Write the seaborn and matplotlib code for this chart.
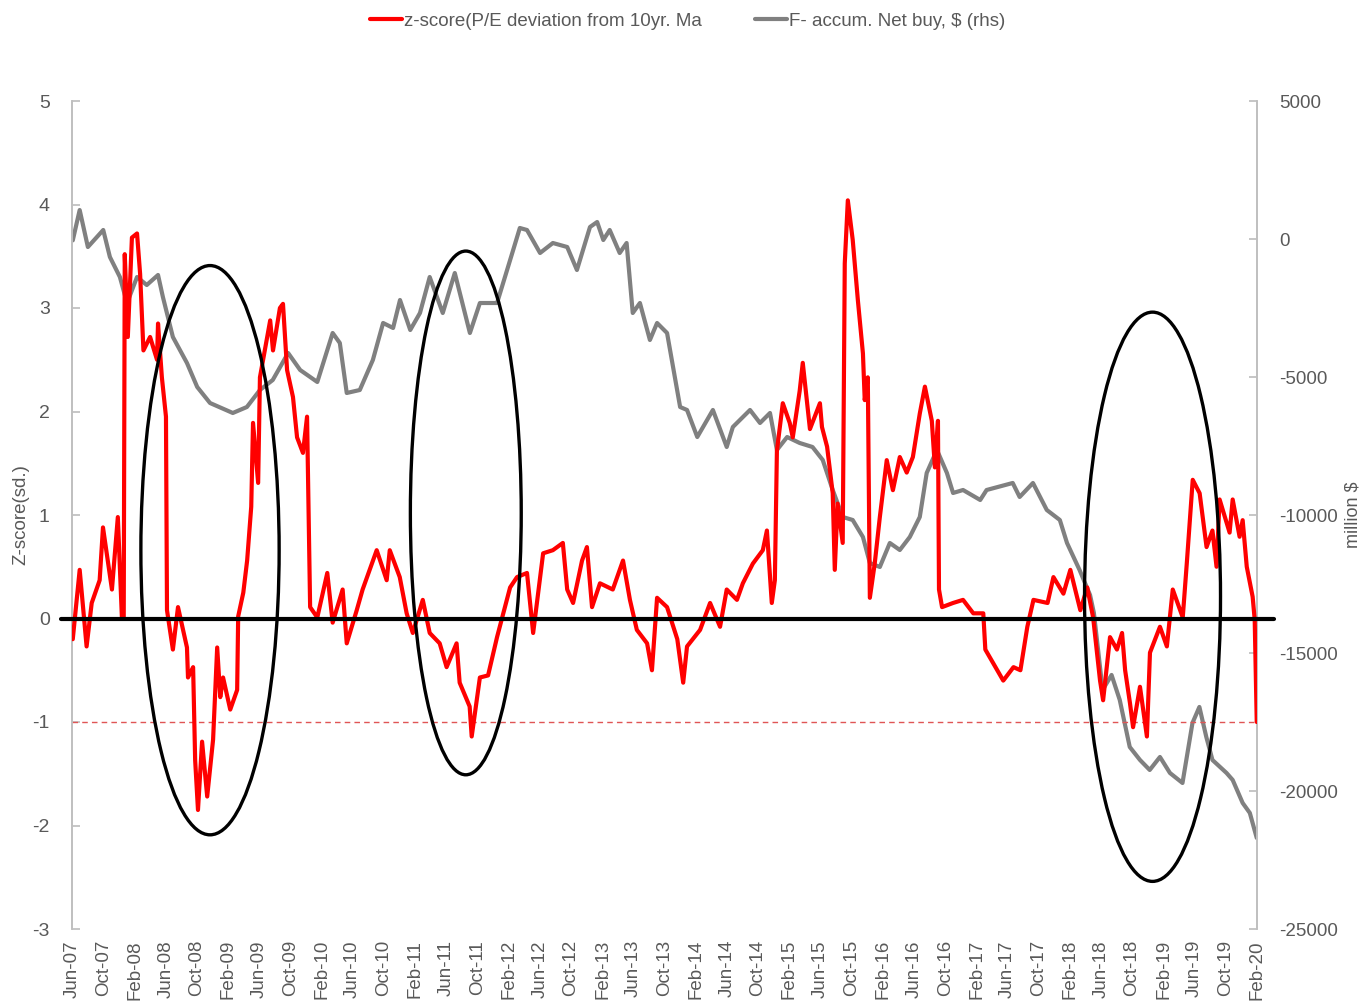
import matplotlib
matplotlib.use("Agg")
import matplotlib.pyplot as plt
import matplotlib.dates as mdates
from matplotlib.patches import Ellipse
from matplotlib.lines import Line2D
import seaborn as sns
import pandas as pd

# ---------------- data ----------------
z_dates = ["2007-06-04", "2007-07-01", "2007-07-28", "2007-08-17", "2007-09-17", "2007-09-30",
           "2007-11-04", "2007-11-27", "2007-12-13", "2007-12-20", "2007-12-24", "2008-01-05",
           "2008-01-21", "2008-02-10", "2008-02-22", "2008-03-06", "2008-04-01", "2008-04-28",
           "2008-05-02", "2008-05-17", "2008-06-02", "2008-06-06", "2008-06-29", "2008-07-19",
           "2008-08-23", "2008-08-27", "2008-09-16", "2008-09-24", "2008-10-05", "2008-10-21",
           "2008-11-10", "2008-12-03", "2008-12-19", "2008-12-31", "2009-01-11", "2009-02-08",
           "2009-03-07", "2009-03-11", "2009-03-31", "2009-04-15", "2009-05-01", "2009-05-08",
           "2009-05-28", "2009-06-04", "2009-07-14", "2009-07-25", "2009-08-21", "2009-09-02",
           "2009-09-18", "2009-10-11", "2009-10-27", "2009-11-19", "2009-12-05", "2009-12-17",
           "2010-01-14", "2010-02-22", "2010-03-15", "2010-04-23", "2010-05-09", "2010-06-17",
           "2010-07-10", "2010-09-03", "2010-10-12", "2010-10-24", "2010-12-02", "2010-12-29",
           "2011-01-22", "2011-03-02", "2011-03-29", "2011-05-07", "2011-06-03", "2011-07-12",
           "2011-07-24", "2011-09-01", "2011-09-09", "2011-10-11", "2011-11-12", "2011-12-17",
           "2012-02-06", "2012-03-04", "2012-04-12", "2012-05-06", "2012-06-14", "2012-07-22",
           "2012-08-30", "2012-09-16", "2012-10-09", "2012-11-13", "2012-12-02", "2012-12-22",
           "2013-01-22", "2013-03-13", "2013-04-22", "2013-05-19", "2013-06-15", "2013-07-25",
           "2013-08-13", "2013-09-02", "2013-10-11", "2013-11-20", "2013-12-13", "2013-12-28",
           "2014-02-17", "2014-03-28", "2014-05-06", "2014-06-01", "2014-07-11", "2014-08-03",
           "2014-09-11", "2014-10-20", "2014-11-05", "2014-11-24", "2014-12-06", "2014-12-14",
           "2015-01-06", "2015-02-02", "2015-02-14", "2015-03-13", "2015-03-25", "2015-04-22",
           "2015-05-31", "2015-06-08", "2015-06-28", "2015-07-20", "2015-07-28", "2015-08-08",
           "2015-08-28", "2015-09-05", "2015-09-17", "2015-10-06", "2015-10-26", "2015-11-15",
           "2015-11-22", "2015-12-04", "2015-12-12", "2015-12-31", "2016-01-20", "2016-02-16",
           "2016-03-11", "2016-04-07", "2016-05-04", "2016-05-28", "2016-06-24", "2016-07-14",
           "2016-08-10", "2016-08-22", "2016-09-03", "2016-09-07", "2016-09-19", "2016-11-01",
           "2016-12-10", "2017-01-19", "2017-02-27", "2017-03-07", "2017-04-23", "2017-05-16",
           "2017-06-25", "2017-07-22", "2017-08-18", "2017-09-11", "2017-11-05", "2017-11-28",
           "2018-01-06", "2018-02-02", "2018-03-13", "2018-04-09", "2018-05-02", "2018-05-29",
           "2018-06-10", "2018-07-07", "2018-08-03", "2018-08-23", "2018-09-04", "2018-09-23",
           "2018-10-05", "2018-11-01", "2018-11-28", "2018-12-10", "2019-01-18", "2019-02-14",
           "2019-03-09", "2019-04-17", "2019-05-03", "2019-05-26", "2019-06-22", "2019-07-19",
           "2019-08-11", "2019-08-27", "2019-09-08", "2019-10-17", "2019-10-29", "2019-11-25",
           "2019-12-07", "2019-12-23", "2020-01-15", "2020-01-23", "2020-01-31"]
z_values = [-0.20, 0.47, -0.27, 0.15, 0.37, 0.88,
            0.28, 0.98, 0.00, 0.00, 3.52, 2.72,
            3.68, 3.72, 3.33, 2.59, 2.72, 2.50,
            2.85, 2.33, 1.95, 0.08, -0.30, 0.11,
            -0.28, -0.57, -0.47, -1.37, -1.85, -1.19,
            -1.72, -1.17, -0.28, -0.76, -0.57, -0.88,
            -0.69, 0.02, 0.25, 0.56, 1.08, 1.89,
            1.31, 2.33, 2.88, 2.59, 3.00, 3.04,
            2.40, 2.14, 1.75, 1.60, 1.95, 0.11,
            0.01, 0.44, -0.04, 0.28, -0.24, 0.08,
            0.28, 0.66, 0.37, 0.66, 0.40, 0.05,
            -0.14, 0.18, -0.14, -0.24, -0.47, -0.24,
            -0.62, -0.85, -1.14, -0.57, -0.55, -0.18,
            0.30, 0.40, 0.44, -0.14, 0.63, 0.66,
            0.73, 0.28, 0.15, 0.56, 0.69, 0.11,
            0.34, 0.28, 0.56, 0.18, -0.11, -0.24,
            -0.50, 0.20, 0.11, -0.20, -0.62, -0.27,
            -0.11, 0.15, -0.08, 0.28, 0.18, 0.34,
            0.53, 0.66, 0.85, 0.15, 0.37, 1.62,
            2.08, 1.89, 1.75, 2.20, 2.47, 1.83,
            2.08, 1.85, 1.66, 1.21, 0.47, 1.11,
            0.73, 3.43, 4.04, 3.66, 3.08, 2.56,
            2.11, 2.33, 0.20, 0.53, 0.98, 1.53,
            1.24, 1.56, 1.41, 1.56, 1.98, 2.24,
            1.91, 1.46, 1.91, 0.28, 0.11, 0.15,
            0.18, 0.05, 0.05, -0.30, -0.50, -0.60,
            -0.47, -0.50, -0.08, 0.18, 0.15, 0.40,
            0.24, 0.47, 0.08, 0.30, 0.01, -0.60,
            -0.79, -0.18, -0.30, -0.14, -0.50, -0.82,
            -1.05, -0.66, -1.14, -0.33, -0.08, -0.27,
            0.28, 0.01, 0.54, 1.34, 1.21, 0.69,
            0.85, 0.50, 1.15, 0.83, 1.15, 0.79,
            0.95, 0.50, 0.21, -0.01, -1.00]

f_dates = ["2007-06-04", "2007-07-01", "2007-08-02", "2007-10-01", "2007-10-27", "2007-12-05",
           "2008-01-02", "2008-02-10", "2008-03-19", "2008-05-02", "2008-05-21", "2008-06-29",
           "2008-08-23", "2008-10-02", "2008-11-21", "2009-02-18", "2009-04-14", "2009-06-04",
           "2009-07-24", "2009-09-22", "2009-11-08", "2010-01-14", "2010-03-15", "2010-04-12",
           "2010-05-09", "2010-06-29", "2010-08-19", "2010-09-28", "2010-11-06", "2010-12-03",
           "2011-01-12", "2011-02-19", "2011-03-29", "2011-05-19", "2011-07-05", "2011-09-02",
           "2011-10-11", "2011-12-17", "2012-02-18", "2012-03-15", "2012-04-12", "2012-06-02",
           "2012-07-22", "2012-09-16", "2012-10-24", "2012-12-14", "2013-01-11", "2013-02-04",
           "2013-03-01", "2013-04-09", "2013-05-06", "2013-05-30", "2013-06-27", "2013-08-05",
           "2013-09-02", "2013-10-11", "2013-12-01", "2013-12-28", "2014-02-06", "2014-04-08",
           "2014-06-01", "2014-06-25", "2014-08-31", "2014-10-09", "2014-11-17", "2014-12-14",
           "2015-01-23", "2015-03-13", "2015-05-02", "2015-06-11", "2015-07-20", "2015-08-28",
           "2015-10-06", "2015-11-15", "2015-12-12", "2016-01-20", "2016-02-28", "2016-04-07",
           "2016-05-16", "2016-06-24", "2016-07-21", "2016-08-30", "2016-10-08", "2016-11-01",
           "2016-12-10", "2017-02-15", "2017-03-12", "2017-06-22", "2017-07-19", "2017-09-09",
           "2017-11-02", "2017-12-23", "2018-01-20", "2018-03-10", "2018-04-20", "2018-05-05",
           "2018-06-08", "2018-07-13", "2018-08-14", "2018-09-22", "2018-11-01", "2018-12-09",
           "2019-01-18", "2019-02-26", "2019-04-16", "2019-05-25", "2019-06-21", "2019-07-18",
           "2019-08-11", "2019-10-05", "2019-10-29", "2019-12-07", "2020-01-04", "2020-01-31"]
f_values = [-50, 1050, -290, 326, -652, -1377,
            -2319, -1377, -1667, -1304, -2101, -3551,
            -4493, -5362, -5942, -6304, -6087, -5471,
            -5109, -4130, -4746, -5181, -3406, -3768,
            -5579, -5471, -4384, -3043, -3224, -2210,
            -3297, -2681, -1377, -2681, -1232, -3406,
            -2319, -2319, -399, 399, 326, -507,
            -145, -290, -1123, 435, 616, -36,
            326, -507, -145, -2681, -2319, -3659,
            -3043, -3406, -6087, -6195, -7174, -6195,
            -7536, -6811, -6195, -6666, -6304, -7644,
            -7174, -7391, -7536, -8007, -9094, -10072,
            -10181, -10797, -11739, -11883, -11014, -11268,
            -10797, -10072, -8478, -7644, -8478, -9202,
            -9094, -9456, -9094, -8840, -9347, -8840,
            -9818, -10181, -11014, -11992, -12900, -13550,
            -16340, -15796, -16702, -18405, -18876, -19238,
            -18767, -19347, -19709, -17535, -16955, -18042,
            -18876, -19347, -19600, -20434, -20796, -21700]

z_label = "z-score(P/E deviation from 10yr. Ma"
f_label = "F- accum. Net buy, $ (rhs)"
left_ticks = [-3, -2, -1, 0, 1, 2, 3, 4, 5]
right_ticks = [-25000, -20000, -15000, -10000, -5000, 0, 5000]

# ellipse annotations: (center date, center z, width days, height z)
ellipses = [("2008-11-21", 0.66, 540, 5.5),
            ("2011-08-17", 1.02, 433, 5.06),
            ("2018-12-20", 0.21, 531, 5.5)]

df_z = pd.DataFrame({"date": pd.to_datetime(z_dates), "value": z_values})
df_f = pd.DataFrame({"date": pd.to_datetime(f_dates), "value": f_values})

# ---------------- style ----------------
sns.set_theme(style="white")
FONT = ["Liberation Sans Narrow", "Liberation Sans", "DejaVu Sans"]
plt.rcParams["font.family"] = FONT
TXT = "#595959"
SPINE = "#bfbfbf"

fig = plt.figure(figsize=(13.59, 10.02), dpi=100)
ax = fig.add_axes([72 / 1359, 1 - 929 / 1002, (1257 - 72) / 1359, (929 - 101) / 1002])
ax2 = ax.twinx()

sns.lineplot(data=df_f, x="date", y="value", ax=ax2, color="#808080", lw=3.0,
             legend=False, zorder=2)
sns.lineplot(data=df_z, x="date", y="value", ax=ax, color="#ff0000", lw=3.0,
             legend=False, zorder=3)

ax.set_zorder(ax2.get_zorder() + 1)
ax.patch.set_visible(False)

ax.set_ylim(-3, 5)
ax2.set_ylim(-25000, 5000)
ax.set_xlim(pd.Timestamp("2007-06-01"), pd.Timestamp("2020-02-01"))

ax.axhline(0, color="black", lw=3.0, xmin=-0.009, xmax=1.014, clip_on=False, zorder=4)
ax.axhline(-1, color="#e05555", lw=1.0, ls=(0, (4, 3)), zorder=1)

for c, cz, w, h in ellipses:
    e = Ellipse((mdates.date2num(pd.Timestamp(c)), cz), w, h, fill=False,
                edgecolor="black", lw=2.4, zorder=5)
    ax.add_patch(e)

xt = pd.date_range("2007-06-01", "2020-02-01", freq="4MS")
ax.set_xticks(xt)
ax.set_xticklabels([d.strftime("%b-%y") for d in xt], rotation=90, fontsize=13.5, color=TXT)
ax.tick_params(axis="x", length=0, pad=8)

ax.set_yticks(left_ticks)
ax.set_yticklabels([str(t) for t in left_ticks], fontsize=14, color=TXT)
ax.tick_params(axis="y", direction="in", length=6, color=SPINE, pad=16)
ax2.set_yticks(right_ticks)
ax2.set_yticklabels([str(t) for t in right_ticks], fontsize=13.5, color=TXT)
ax2.tick_params(axis="y", direction="in", length=6, color=SPINE, pad=16)

for a in (ax, ax2):
    a.spines["top"].set_visible(False)
    a.spines["bottom"].set_visible(False)
    a.spines["left"].set_color(SPINE)
    a.spines["right"].set_color(SPINE)
    a.spines["left"].set_linewidth(1.2)
    a.spines["right"].set_linewidth(1.2)
    a.set_xlabel("")

ax.set_ylabel("Z-score(sd.)", fontsize=13.5, color=TXT)
ax2.set_ylabel("million $", fontsize=13, color=TXT)
ax.yaxis.set_label_coords(-0.036, 0.5)
ax2.yaxis.set_label_coords(1.074, 0.5)

handles = [Line2D([], [], color="#ff0000", lw=3), Line2D([], [], color="#808080", lw=3)]
fig.legend(handles, [z_label, f_label], loc="center", bbox_to_anchor=(0.506, 0.979),
           ncol=2, frameon=False, fontsize=13.5, handlelength=1.7, handletextpad=0.15,
           columnspacing=2.8, labelcolor=TXT)

fig.savefig("out.png", dpi=100)
